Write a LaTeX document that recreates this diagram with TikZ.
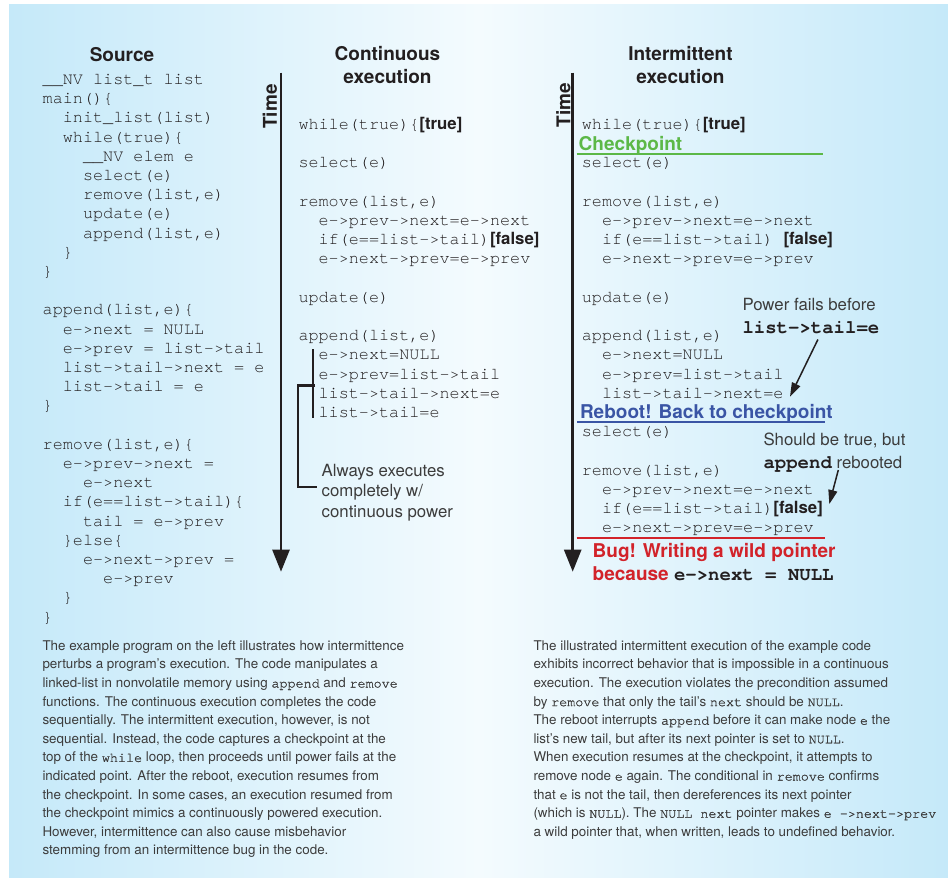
\documentclass[tikz,border=0pt]{standalone}
\usepackage{fontspec}
\setmainfont{TeX Gyre Heros}
\setmonofont{texgyrecursor-regular.otf}[BoldFont=texgyrecursor-bold.otf]
% slightly heavier Cursor for code words inside the small paragraph text
\newfontfamily\inlinecode{texgyrecursor-regular.otf}[FakeBold=1]
\usetikzlibrary{arrows.meta}

\definecolor{ink}{RGB}{35,31,32}
\definecolor{bodyink}{RGB}{60,60,60}
\definecolor{bgblue}{RGB}{197,233,249}
\definecolor{bgwhite}{RGB}{244,251,254}
\definecolor{ckgreen}{RGB}{92,184,71}
\definecolor{rbblue}{RGB}{58,85,165}
\definecolor{bugred}{RGB}{210,35,42}

% bracketed branch outcome, set in bold sans inside code
\newcommand\kw[1]{{\rmfamily\bfseries[#1]}}
% bold code inside annotations
\newcommand\bmono[1]{{\ttfamily\bfseries\fontsize{19}{22}\selectfont #1}}
% code word inside a paragraph
\newcommand\cw[1]{{\inlinecode #1}}

% one line of code: row number, indent (characters), text
\newcommand\srcln[3]{\node[code] (src#1) at ({42.5+10.08*#2},{84.5+19.2*#1}) {#3};}
\newcommand\conln[3]{\node[code] (con#1) at ({298.3+10.08*#2},{129.5+19.2*#1}) {#3};}
\newcommand\intln[3]{\node[code] (int#1) at ({581.7+10.08*#2},{129.5+19.2*#1}) {#3};}
% one line of the explanatory paragraphs
\newcommand\lpara[2]{\node[body] (lp#1) at (42.3,{650.3+18.6*(#1-1)}) {#2};}
\newcommand\rpara[2]{\node[body] (rp#1) at (533.3,{650.3+18.6*(#1-1)}) {#2};}

\begin{document}
\begin{tikzpicture}[x=1pt,y=-1pt,
  code/.style={font=\fontsize{16.8}{19.2}\selectfont\ttfamily, text=ink, inner sep=0, anchor=base west},
  headln/.style={font=\fontsize{19}{22}\selectfont\bfseries, text=ink, inner sep=0, anchor=base},
  timelbl/.style={font=\fontsize{19}{22}\selectfont\bfseries, text=ink, inner sep=0, rotate=90, anchor=center},
  note/.style={font=\fontsize{16.8}{20}\selectfont, text=bodyink, inner sep=0, anchor=base west},
  body/.style={font=\fontsize{13.4}{18.6}\selectfont, text=bodyink, inner sep=0, anchor=base west},
  flag/.style={font=\fontsize{19}{22}\selectfont\bfseries, inner sep=0, anchor=base west},
  timeaxis/.style={draw=ink, line width=2.6pt, -{Triangle[width=17pt,length=22pt]}},
  bracket/.style={draw=ink, line width=2.2pt},
  rule/.style={line width=2pt},
  ptr/.style={draw=ink, line width=1.5pt, -{Triangle[width=9pt,length=14pt]}},
]
\useasboundingbox (0,0) rectangle (948,884);
\shade[left color=bgblue, right color=bgblue, middle color=bgwhite] (9,4) rectangle (948,877);

% ---------- headings ----------
\node[headln] (hsrc)  at (122,61.5)   {Source};
\node[headln] (hcon1) at (387.5,60.7) {Continuous};
\node[headln] (hcon2) at (387.5,83.3) {execution};
\node[headln] (hint1) at (680.5,60.7) {Intermittent};
\node[headln] (hint2) at (680.5,83.3) {execution};

% ---------- source code ----------
\srcln{0}{0}{\_\_NV list\_t list}
\srcln{1}{0}{main()\{}
\srcln{2}{2}{init\_list(list)}
\srcln{3}{2}{while(true)\{}
\srcln{4}{4}{\_\_NV elem e}
\srcln{5}{4}{select(e)}
\srcln{6}{4}{remove(list,e)}
\srcln{7}{4}{update(e)}
\srcln{8}{4}{append(list,e)}
\srcln{9}{2}{\}}
\srcln{10}{0}{\}}
\srcln{12}{0}{append(list,e)\{}
\srcln{13}{2}{e->next = NULL}
\srcln{14}{2}{e->prev = list->tail}
\srcln{15}{2}{list->tail->next = e}
\srcln{16}{2}{list->tail = e}
\srcln{17}{0}{\}}
\srcln{19}{0}{remove(list,e)\{}
\srcln{20}{2}{e->prev->next =}
\srcln{21}{4}{e->next}
\srcln{22}{2}{if(e==list->tail)\{}
\srcln{23}{4}{tail = e->prev}
\srcln{24}{2}{\}else\{}
\srcln{25}{4}{e->next->prev =}
\srcln{26}{6}{e->prev}
\srcln{27}{2}{\}}
\srcln{28}{0}{\}}

% ---------- continuous execution ----------
\draw[timeaxis] (281,72.7) -- (281,571.7);
\node[timelbl] (tcon) at (270,106.5) {Time};

\conln{0}{0}{while(true)\{\kw{true}}
\conln{2}{0}{select(e)}
\conln{4}{0}{remove(list,e)}
\conln{5}{2}{e->prev->next=e->next}
\conln{6}{2}{if(e==list->tail)\kw{false}}
\conln{7}{2}{e->next->prev=e->prev}
\conln{9}{0}{update(e)}
\conln{11}{0}{append(list,e)}
\conln{12}{2}{e->next=NULL}
\conln{13}{2}{e->prev=list->tail}
\conln{14}{2}{list->tail->next=e}
\conln{15}{2}{list->tail=e}

% the append body runs as one uninterrupted block
\draw[bracket] (313.3,349) -- (313.3,418);
\draw[bracket] (315,385.5) -- (298.3,385.5) -- (298.3,487) -- (316.7,487);
\node[note] (ae1) at (321.5,476)   {Always executes};
\node[note] (ae2) at (321.5,496.8) {completely w/};
\node[note] (ae3) at (321.5,517)   {continuous power};

% ---------- intermittent execution ----------
\draw[timeaxis] (572.7,72.7) -- (572.7,571.7);
\node[timelbl] (tint) at (563.3,105) {Time};

\intln{0}{0}{while(true)\{\kw{true}}
\node[flag, text=ckgreen] (ckpt) at (578.5,150.5) {Checkpoint};
\draw[rule, draw=ckgreen] (576.7,154) -- (822.7,154);
\intln{2}{0}{select(e)}
\intln{4}{0}{remove(list,e)}
\intln{5}{2}{e->prev->next=e->next}
\intln{6}{2}{if(e==list->tail) \kw{false}}
\intln{7}{2}{e->next->prev=e->prev}
\intln{9}{0}{update(e)}
\intln{11}{0}{append(list,e)}
\intln{12}{2}{e->next=NULL}
\intln{13}{2}{e->prev=list->tail}
\intln{14}{2}{list->tail->next=e}
\node[flag, text=rbblue] (reboot) at (579.8,418.3) {Reboot! Back to checkpoint};
\draw[rule, draw=rbblue] (577.3,421.7) -- (825,421.7);
\intln{16}{0}{select(e)}
\intln{18}{0}{remove(list,e)}
\intln{19}{2}{e->prev->next=e->next}
\intln{20}{2}{if(e==list->tail)\kw{false}}
\intln{21}{2}{e->next->prev=e->prev}
\draw[rule, draw=bugred] (576.7,537.7) -- (825,537.7);
\node[flag, text=bugred] (bug1) at (592.5,557.3) {Bug! Writing a wild pointer};
\node[flag, text=bugred] (bug2) at (592.5,580) {because \textcolor{ink}{\bmono{e->next = NULL}}};

% annotations with pointers
\node[note] (pf1) at (742.3,310.5) {Power fails before};
\node[note] (pf2) at (742.3,333)   {\textcolor{ink}{\bmono{list->tail=e}}};
\coordinate (pftip) at (790,396.7);
\draw[ptr] ([xshift=7pt,yshift=-6pt]pf2.south) -- (pftip);

\node[note] (sb1) at (763.3,445.5) {Should be true, but};
\node[note] (sb2) at (763.3,468.5) {\textcolor{ink}{\bmono{append}} rebooted};
\coordinate (sbtip) at (829.3,504);
\draw[ptr] (838.3,470) -- (sbtip);

% ---------- explanatory paragraphs ----------
\lpara{1}{The example program on the left illustrates how intermittence}
\lpara{2}{perturbs a program's execution. The code manipulates a}
\lpara{3}{linked-list in nonvolatile memory using \cw{append} and \cw{remove}}
\lpara{4}{functions. The continuous execution completes the code}
\lpara{5}{sequentially. The intermittent execution, however, is not}
\lpara{6}{sequential. Instead, the code captures a checkpoint at the}
\lpara{7}{top of the \cw{while} loop, then proceeds until power fails at the}
\lpara{8}{indicated point. After the reboot, execution resumes from}
\lpara{9}{the checkpoint. In some cases, an execution resumed from}
\lpara{10}{the checkpoint mimics a continuously powered execution.}
\lpara{11}{However, intermittence can also cause misbehavior}
\lpara{12}{stemming from an intermittence bug in the code.}

\rpara{1}{The illustrated intermittent execution of the example code}
\rpara{2}{exhibits incorrect behavior that is impossible in a continuous}
\rpara{3}{execution. The execution violates the precondition assumed}
\rpara{4}{by \cw{remove} that only the tail's \cw{next} should be \cw{NULL}.}
\rpara{5}{The reboot interrupts \cw{append} before it can make node \cw{e} the}
\rpara{6}{list's new tail, but after its next pointer is set to \cw{NULL}.}
\rpara{7}{When execution resumes at the checkpoint, it attempts to}
\rpara{8}{remove node \cw{e} again. The conditional in \cw{remove} confirms}
\rpara{9}{that \cw{e} is not the tail, then dereferences its next pointer}
\rpara{10}{(which is \cw{NULL}). The \cw{NULL next} pointer makes \cw{e ->next->prev}}
\rpara{11}{a wild pointer that, when written, leads to undefined behavior.}
\end{tikzpicture}
\end{document}
